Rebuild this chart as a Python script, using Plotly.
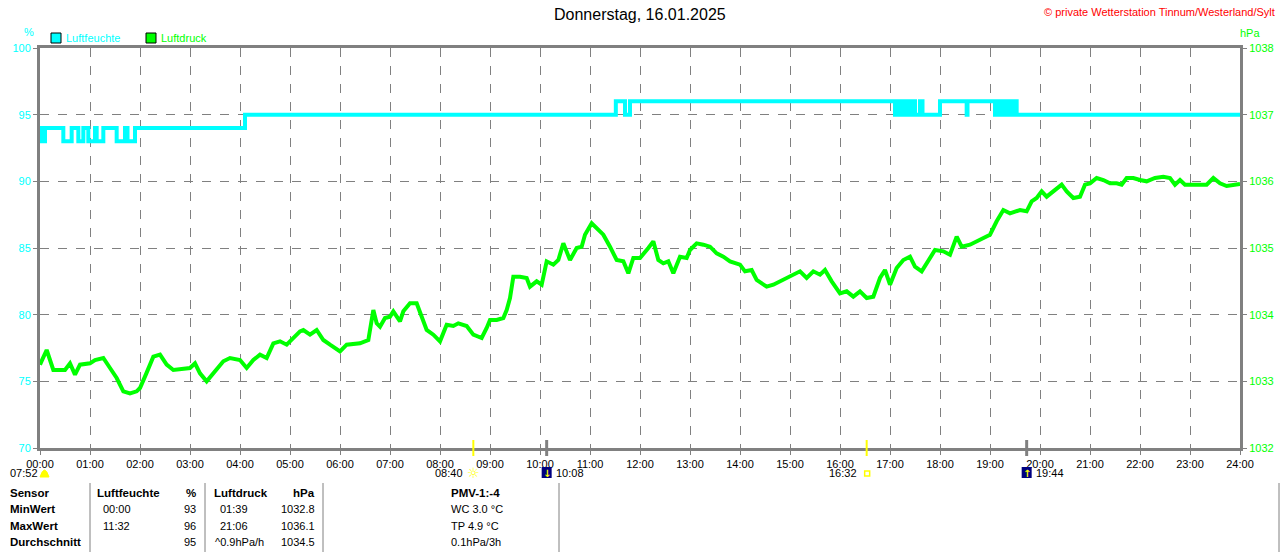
import plotly.graph_objects as go

# Luftdruck (hPa), Zeit in Minuten seit 00:00
druck_min = [0, 8, 16, 30, 36, 42, 48, 60, 66, 76, 84, 92, 100, 108, 116, 120,
             128, 136, 144, 152, 160, 180, 186, 192, 200, 208, 220, 228, 240,
             248, 256, 264, 272, 280, 288, 296, 304, 312, 316, 324, 332, 340,
             348, 360, 368, 384, 394, 396, 400, 404, 408, 414, 420, 424, 432,
             436, 444, 452, 458, 464, 472, 480, 488, 496, 502, 512, 520, 530,
             536, 540, 548, 556, 560, 564, 568, 576, 584, 588, 596, 602, 608,
             616, 622, 628, 636, 644, 650, 654, 662, 668, 676, 684, 692, 700,
             706, 712, 720, 730, 736, 742, 748, 754, 760, 768, 776, 780, 788,
             796, 804, 812, 820, 828, 836, 840, 846, 854, 860, 872, 880, 888,
             896, 900, 912, 920, 928, 936, 942, 950, 960, 968, 976, 984, 992,
             1000, 1008, 1014, 1020, 1028, 1036, 1044, 1050, 1058, 1066, 1074,
             1084, 1092, 1100, 1106, 1116, 1124, 1132, 1140, 1148, 1156, 1164,
             1176, 1184, 1190, 1196, 1202, 1208, 1216, 1226, 1232, 1240, 1248,
             1254, 1260, 1268, 1276, 1284, 1292, 1298, 1304, 1312, 1320, 1328,
             1338, 1348, 1356, 1362, 1368, 1374, 1380, 1392, 1400, 1408, 1416,
             1424, 1440]
druck_hpa = [1033.25, 1033.47, 1033.17, 1033.17, 1033.27, 1033.1, 1033.25,
             1033.27, 1033.32, 1033.35, 1033.2, 1033.05, 1032.85, 1032.82,
             1032.85, 1032.9, 1033.13, 1033.37, 1033.4, 1033.25, 1033.17,
             1033.2, 1033.27, 1033.12, 1033.0, 1033.12, 1033.3, 1033.35,
             1033.32, 1033.2, 1033.32, 1033.4, 1033.35, 1033.57, 1033.6,
             1033.55, 1033.65, 1033.75, 1033.77, 1033.7, 1033.77, 1033.62,
             1033.55, 1033.45, 1033.55, 1033.57, 1033.62, 1033.8, 1034.07,
             1033.87, 1033.82, 1033.95, 1033.97, 1034.05, 1033.9, 1034.05,
             1034.17, 1034.17, 1033.97, 1033.77, 1033.7, 1033.6, 1033.85,
             1033.83, 1033.87, 1033.83, 1033.7, 1033.65, 1033.8, 1033.92,
             1033.92, 1033.95, 1034.07, 1034.25, 1034.57, 1034.57, 1034.55,
             1034.42, 1034.5, 1034.45, 1034.8, 1034.75, 1034.82, 1035.07,
             1034.82, 1035.0, 1035.02, 1035.2, 1035.37, 1035.3, 1035.2,
             1035.02, 1034.82, 1034.8, 1034.62, 1034.85, 1034.85, 1035.0,
             1035.1, 1034.82, 1034.77, 1034.8, 1034.62, 1034.87, 1034.85,
             1034.97, 1035.07, 1035.05, 1035.02, 1034.92, 1034.87, 1034.8,
             1034.77, 1034.75, 1034.65, 1034.67, 1034.52, 1034.42, 1034.45,
             1034.5, 1034.55, 1034.57, 1034.65, 1034.55, 1034.65, 1034.6,
             1034.67, 1034.5, 1034.32, 1034.35, 1034.27, 1034.35, 1034.25,
             1034.27, 1034.55, 1034.67, 1034.45, 1034.7, 1034.82, 1034.87,
             1034.72, 1034.65, 1034.8, 1034.97, 1034.95, 1034.9, 1035.17,
             1035.02, 1035.05, 1035.1, 1035.15, 1035.2, 1035.4, 1035.57,
             1035.52, 1035.57, 1035.55, 1035.7, 1035.75, 1035.85, 1035.77,
             1035.85, 1035.95, 1035.85, 1035.75, 1035.77, 1035.95, 1035.97,
             1036.05, 1036.02, 1035.97, 1035.97, 1035.95, 1036.05, 1036.05,
             1036.02, 1036.0, 1036.05, 1036.07, 1036.05, 1035.95, 1036.02,
             1035.95, 1035.95, 1035.95, 1035.95, 1036.05, 1035.97, 1035.93,
             1035.96]

# Luftfeuchte (%), Stufenwechsel in Minuten seit 00:00
feuchte_min = [0, 1, 3, 6, 28, 38, 46, 52, 58, 66, 68, 76, 92, 102, 105, 114,
               246, 691, 702, 708, 1026, 1028, 1031, 1033, 1036, 1038, 1041,
               1043, 1046, 1048, 1050, 1056, 1059, 1062, 1080, 1112, 1113,
               1146, 1149, 1152, 1155, 1158, 1161, 1164, 1168, 1172, 1440]
feuchte_pct = [93, 94, 93, 94, 93, 94, 93, 94, 93, 94, 93, 94, 93, 94, 93, 94,
               95, 96, 95, 96, 95, 96, 95, 96, 95, 96, 95,
               96, 95, 96, 95, 96, 95, 95, 96, 95, 96,
               95, 96, 95, 96, 95, 96, 95, 96, 95, 95]

stunden = list(range(25))
stunden_txt = [f"{h:02d}:00" for h in stunden]

# Sonne / Mond unter der Zeitachse
sonne_zeit = ["08:40", "16:32"]
mond_zeit = ["10:08", "19:44"]
mond_richtung = ["↓", "↑"]
daemmerung_zeit = "07:52"

# Tabelle unten
tab_kopf = ["Sensor", "Luftfeuchte", "%", "Luftdruck", "hPa", "PMV-1:-4"]
tab_zeilen = ["MinWert", "MaxWert", "Durchschnitt"]
feuchte_zeit = ["00:00", "11:32", ""]
feuchte_wert = ["93", "96", "95"]
druck_zeit = ["01:39", "21:06", "^0.9hPa/h"]
druck_wert = ["1032.8", "1036.1", "1034.5"]
pmv_text = ["WC 3.0 °C", "TP 4.9 °C", "0.1hPa/3h"]

CYAN = "#00FFFF"
GRUEN = "#00FF00"
GRAU = "#808080"
FONT = "Liberation Sans"

L, R, T, B = 40, 40, 48, 104
W, H = 1280, 552


def px(x):
    return (x - L) / (W - L - R)


def py(y):
    return (H - B - y) / (H - T - B)


def hm(s):
    h, m = s.split(":")
    return int(h) + int(m) / 60


fig = go.Figure()
fig.add_trace(go.Scatter(
    x=[m / 60 for m in feuchte_min], y=feuchte_pct, mode="lines",
    line=dict(color=CYAN, width=4, shape="hv"), yaxis="y",
    name="Luftfeuchte", hoverinfo="skip"))
fig.add_trace(go.Scatter(
    x=[m / 60 for m in druck_min], y=druck_hpa, mode="lines",
    line=dict(color=GRUEN, width=4), yaxis="y2",
    name="Luftdruck", hoverinfo="skip"))

shapes = []
ann = []


def text(x, y, s, color="black", size=11, anchor="left", bold=False):
    ann.append(dict(x=px(x), y=py(y), xref="paper", yref="paper", text=("<b>%s</b>" % s) if bold else s,
                    showarrow=False, xanchor=anchor, yanchor="middle",
                    font=dict(family=FONT, size=size, color=color)))


# Kopf
text(640, 15, "Donnerstag, 16.01.2025", size=16, anchor="center")
text(1277, 12, "© private Wetterstation Tinnum/Westerland/Sylt", color="#FF0000", anchor="right")
text(29, 32, "%", color=CYAN, anchor="center")
text(1250, 33, "hPa", color=GRUEN, anchor="center")

# Legende
for x0, farbe, name in [(51, CYAN, "Luftfeuchte"), (146, GRUEN, "Luftdruck")]:
    shapes.append(dict(type="rect", xref="paper", yref="paper",
                       x0=px(x0), x1=px(x0 + 10), y0=py(43), y1=py(33),
                       fillcolor=farbe, line=dict(color="black", width=1)))
    text(x0 + 13, 38, name, color=farbe)

# Sonne
for t in sonne_zeit:
    xh = hm(t)
    shapes.append(dict(type="line", xref="x", yref="paper", x0=xh, x1=xh,
                       y0=py(456), y1=py(440), line=dict(color="#FFFF00", width=2)))
    ann.append(dict(x=xh, y=py(473), xref="x", yref="paper", text=t, showarrow=False,
                    xanchor="right", yanchor="middle", xshift=-8,
                    font=dict(family=FONT, size=11, color="black")))
ann.append(dict(x=hm(sonne_zeit[0]), y=py(473), xref="x", yref="paper", text="☼",
                showarrow=False, xanchor="center", yanchor="middle",
                font=dict(family="DejaVu Sans", size=14, color="#FFFF00")))
xs = hm(sonne_zeit[1])
shapes.append(dict(type="rect", xref="x", yref="paper", x0=xs - 0.04, x1=xs + 0.06,
                   y0=py(476), y1=py(471), line=dict(color="#FFFF00", width=1.5)))

# Mond
for t, pfeil in zip(mond_zeit, mond_richtung):
    xm = hm(t)
    shapes.append(dict(type="line", xref="x", yref="paper", x0=xm, x1=xm,
                       y0=py(456), y1=py(440), line=dict(color=GRAU, width=3)))
    shapes.append(dict(type="rect", xref="x", yref="paper", x0=xm - 0.1, x1=xm + 0.1,
                       y0=py(478), y1=py(467), fillcolor="#000080", line=dict(width=0)))
    ann.append(dict(x=xm, y=py(473), xref="x", yref="paper", text="<b>%s</b>" % pfeil,
                    showarrow=False, xanchor="center", yanchor="middle",
                    font=dict(family="DejaVu Sans", size=10, color="#FFFF00")))
    ann.append(dict(x=xm, y=py(473), xref="x", yref="paper", text=t, showarrow=False,
                    xanchor="left", yanchor="middle", xshift=7,
                    font=dict(family=FONT, size=11, color="black")))

# Daemmerung links
text(8, 473, daemmerung_zeit)
shapes.append(dict(type="path", xref="paper", yref="paper",
                   path="M %f %f Q %f %f %f %f Z" % (px(40), py(477), px(44.5), py(463), px(49), py(477)),
                   fillcolor="#FFFF00", line=dict(color="#FFFF00", width=1)))

# Tabelle
for xl in [90, 205, 323, 559, 1279]:
    shapes.append(dict(type="line", xref="paper", yref="paper", x0=px(xl), x1=px(xl),
                       y0=py(483), y1=py(552), line=dict(color=GRAU, width=1)))

kopf_pos = [(8, "left"), (95, "left"), (198, "right"), (212, "left"), (317, "right"), (449, "left")]
for s, (x, a) in zip(tab_kopf, kopf_pos):
    text(x, 493, s, anchor=a, bold=True, size=11.5)
for i, zeile in enumerate(tab_zeilen):
    y = 509 + i * 16.5
    text(8, y, zeile, bold=True, size=11.5)
    text(101, y, feuchte_zeit[i])
    text(198, y, feuchte_wert[i], anchor="right")
    text(213 if druck_zeit[i].startswith("^") else 218, y, druck_zeit[i])
    text(317, y, druck_wert[i], anchor="right")
    text(449, y, pmv_text[i])

fig.update_layout(
    width=W, height=H, autosize=False,
    margin=dict(l=L, r=R, t=T, b=B, pad=0, autoexpand=False),
    paper_bgcolor="white", plot_bgcolor="white",
    showlegend=False,
    font=dict(family=FONT, size=11, color="black"),
    xaxis=dict(range=[0, 24], tickvals=stunden, ticktext=stunden_txt,
               showgrid=True, gridcolor=GRAU, gridwidth=1, griddash="dash",
               showline=True, linecolor=GRAU, linewidth=3, mirror=True,
               ticks="outside", ticklen=4, tickcolor=GRAU, zeroline=False,
               automargin=False,
               tickfont=dict(family=FONT, size=11, color="black")),
    yaxis=dict(range=[70, 100], dtick=5, showgrid=True, gridcolor=GRAU,
               gridwidth=1, griddash="dash", showline=True, linecolor=GRAU,
               linewidth=3, ticks="outside", ticklen=4, tickcolor=GRAU,
               zeroline=False, automargin=False,
               tickfont=dict(family=FONT, size=11, color=CYAN)),
    yaxis2=dict(range=[1032, 1038], dtick=1, overlaying="y", side="right",
                showgrid=False, showline=True, linecolor=GRAU, linewidth=3,
                ticks="outside", ticklen=4, tickcolor=GRAU, zeroline=False,
                automargin=False,
                tickfont=dict(family=FONT, size=11, color=GRUEN)),
    shapes=shapes,
    annotations=ann,
)

# Seitenrand des Browsers entfernen, damit 1280x552 genau passt
js = """
document.documentElement.style.margin='0';
document.documentElement.style.overflow='hidden';
document.body.style.margin='0';
document.body.style.overflow='hidden';
"""
fig.write_html("out.html", config={"displayModeBar": False, "responsive": False}, post_script=js)
